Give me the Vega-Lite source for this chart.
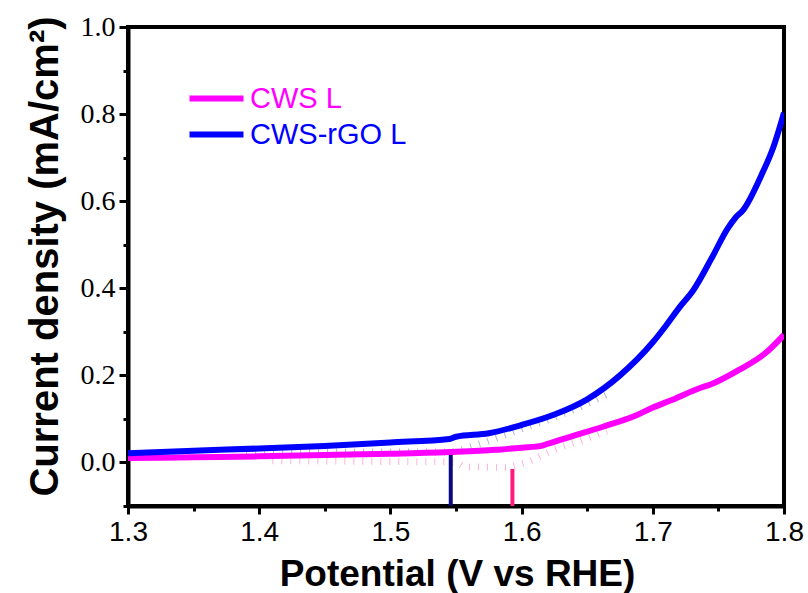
{
  "$schema": "https://vega.github.io/schema/vega-lite/v6.json",
  "width": 656,
  "height": 479,
  "autosize": {"type": "none"},
  "padding": {"left": 128, "top": 27, "right": 24, "bottom": 87},
  "background": "white",
  "config": {
    "view": {"stroke": "black", "strokeWidth": 4},
    "axis": {"grid": false, "domainColor": "black", "domainWidth": 4, "tickColor": "black", "tickWidth": 3, "labelColor": "black", "titleColor": "black"}
  },
  "datasets": {
    "curves": [
      {"series": "CWS L", "v": 1.300, "j": 0.010},
      {"series": "CWS L", "v": 1.350, "j": 0.012},
      {"series": "CWS L", "v": 1.400, "j": 0.014},
      {"series": "CWS L", "v": 1.450, "j": 0.017},
      {"series": "CWS L", "v": 1.500, "j": 0.020},
      {"series": "CWS L", "v": 1.545, "j": 0.024},
      {"series": "CWS L", "v": 1.580, "j": 0.029},
      {"series": "CWS L", "v": 1.600, "j": 0.034},
      {"series": "CWS L", "v": 1.615, "j": 0.038},
      {"series": "CWS L", "v": 1.620, "j": 0.043},
      {"series": "CWS L", "v": 1.637, "j": 0.059},
      {"series": "CWS L", "v": 1.662, "j": 0.082},
      {"series": "CWS L", "v": 1.688, "j": 0.109},
      {"series": "CWS L", "v": 1.700, "j": 0.126},
      {"series": "CWS L", "v": 1.715, "j": 0.144},
      {"series": "CWS L", "v": 1.736, "j": 0.171},
      {"series": "CWS L", "v": 1.744, "j": 0.179},
      {"series": "CWS L", "v": 1.766, "j": 0.213},
      {"series": "CWS L", "v": 1.787, "j": 0.254},
      {"series": "CWS L", "v": 1.800, "j": 0.293},
      {"series": "CWS-rGO L", "v": 1.300, "j": 0.021},
      {"series": "CWS-rGO L", "v": 1.350, "j": 0.027},
      {"series": "CWS-rGO L", "v": 1.400, "j": 0.032},
      {"series": "CWS-rGO L", "v": 1.450, "j": 0.038},
      {"series": "CWS-rGO L", "v": 1.500, "j": 0.046},
      {"series": "CWS-rGO L", "v": 1.545, "j": 0.054},
      {"series": "CWS-rGO L", "v": 1.550, "j": 0.059},
      {"series": "CWS-rGO L", "v": 1.575, "j": 0.067},
      {"series": "CWS-rGO L", "v": 1.600, "j": 0.086},
      {"series": "CWS-rGO L", "v": 1.625, "j": 0.110},
      {"series": "CWS-rGO L", "v": 1.650, "j": 0.145},
      {"series": "CWS-rGO L", "v": 1.675, "j": 0.200},
      {"series": "CWS-rGO L", "v": 1.700, "j": 0.276},
      {"series": "CWS-rGO L", "v": 1.710, "j": 0.314},
      {"series": "CWS-rGO L", "v": 1.720, "j": 0.355},
      {"series": "CWS-rGO L", "v": 1.731, "j": 0.396},
      {"series": "CWS-rGO L", "v": 1.745, "j": 0.470},
      {"series": "CWS-rGO L", "v": 1.757, "j": 0.537},
      {"series": "CWS-rGO L", "v": 1.763, "j": 0.562},
      {"series": "CWS-rGO L", "v": 1.769, "j": 0.580},
      {"series": "CWS-rGO L", "v": 1.783, "j": 0.661},
      {"series": "CWS-rGO L", "v": 1.792, "j": 0.725},
      {"series": "CWS-rGO L", "v": 1.800, "j": 0.803}
    ],
    "pinkTangent": [
      {"v": 1.410, "j": 0.004},
      {"v": 1.470, "j": 0.003},
      {"v": 1.550, "j": 0.001},
      {"v": 1.556, "j": -0.010},
      {"v": 1.590, "j": -0.012},
      {"v": 1.604, "j": 0.000},
      {"v": 1.624, "j": 0.029},
      {"v": 1.645, "j": 0.050},
      {"v": 1.665, "j": 0.072}
    ],
    "blueTangent": [
      {"v": 1.390, "j": 0.024},
      {"v": 1.546, "j": 0.024},
      {"v": 1.555, "j": 0.030},
      {"v": 1.571, "j": 0.045},
      {"v": 1.586, "j": 0.062},
      {"v": 1.600, "j": 0.077},
      {"v": 1.622, "j": 0.100},
      {"v": 1.645, "j": 0.128},
      {"v": 1.665, "j": 0.156}
    ],
    "markers": [
      {"sample": "CWS-rGO L", "v": 1.546, "j": -0.1, "top": 0.018},
      {"sample": "CWS L", "v": 1.593, "j": -0.1, "top": -0.015}
    ]
  },
  "encoding": {
    "x": {
      "field": "v", "type": "quantitative",
      "scale": {"domain": [1.3, 1.8], "nice": false, "zero": false},
      "axis": {
        "orient": "bottom",
        "values": [1.3, 1.35, 1.4, 1.45, 1.5, 1.55, 1.6, 1.65, 1.7, 1.75, 1.8],
        "labelExpr": "round(datum.value*20) % 2 == 0 ? format(datum.value, '.1f') : ''",
        "tickSize": {"condition": {"test": "round(datum.value*20) % 2 == 0", "value": 8}, "value": 5},
        "labelFont": "Liberation Sans", "labelFontSize": 28, "labelPadding": 4,
        "labelFlush": false, "labelOverlap": false,
        "title": "Potential (V vs RHE)",
        "titleFont": "Liberation Sans", "titleFontSize": 37, "titleFontWeight": "bold",
        "titleX": 329, "titleY": 68, "titleBaseline": "middle", "titleAlign": "center"
      }
    },
    "y": {
      "field": "j", "type": "quantitative",
      "scale": {"domain": [-0.1, 1.0], "nice": false, "zero": false},
      "axis": {
        "orient": "left",
        "values": [-0.1, 0, 0.1, 0.2, 0.3, 0.4, 0.5, 0.6, 0.7, 0.8, 0.9, 1.0],
        "labelExpr": "round(datum.value*10) % 2 == 0 ? format(datum.value, '.1f') : ''",
        "tickSize": {"condition": {"test": "round(datum.value*10) % 2 == 0", "value": 9}, "value": 5},
        "labelFont": "Liberation Serif", "labelFontSize": 28, "labelPadding": 4,
        "labelFlush": false, "labelOverlap": false,
        "title": "Current density (mA/cm²)",
        "titleFont": "Liberation Sans", "titleFontSize": 40, "titleFontWeight": "bold",
        "titleX": -83, "titleY": 229, "titleBaseline": "middle", "titleAlign": "center", "titleAngle": -90
      }
    }
  },
  "layer": [
    {
      "data": {"name": "pinkTangent"},
      "mark": {"type": "line", "color": "#ff7fc8", "strokeWidth": 7, "strokeDash": [1, 8], "opacity": 0.6, "clip": true}
    },
    {
      "data": {"name": "blueTangent"},
      "mark": {"type": "line", "color": "#7f7fc0", "strokeWidth": 7, "strokeDash": [1, 8], "opacity": 0.6, "clip": true}
    },
    {
      "data": {"name": "markers"},
      "transform": [{"filter": "datum.sample == 'CWS-rGO L'"}],
      "mark": {"type": "rule", "strokeWidth": 4, "color": "#0a0a80"},
      "encoding": {"y2": {"field": "top"}}
    },
    {
      "data": {"name": "markers"},
      "transform": [{"filter": "datum.sample == 'CWS L'"}],
      "mark": {"type": "rule", "strokeWidth": 4, "color": "#ff1a80"},
      "encoding": {"y2": {"field": "top"}}
    },
    {
      "data": {"name": "curves"},
      "mark": {"type": "line", "strokeWidth": 6, "clip": true, "interpolate": "monotone"},
      "encoding": {
        "color": {
          "field": "series", "type": "nominal",
          "scale": {"domain": ["CWS L", "CWS-rGO L"], "range": ["#ff00ff", "#0000ff"]},
          "legend": {
            "title": null, "orient": "none", "legendX": 72, "legendY": 55, "padding": 0,
            "symbolType": "M-2,0H2", "symbolSize": 729, "symbolStrokeWidth": 6,
            "labelFont": "Liberation Sans", "labelFontSize": 29, "labelOffset": 17,
            "rowPadding": 4,
            "encode": {"labels": {"update": {"fill": {"scale": "color", "field": "value"}}}}
          }
        }
      }
    }
  ]
}
